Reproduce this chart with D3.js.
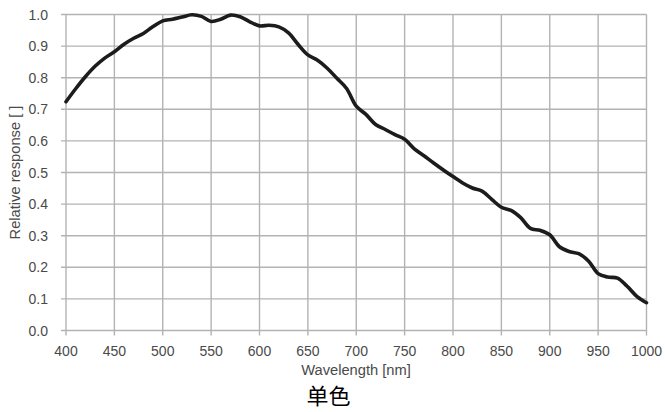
<!DOCTYPE html>
<html>
<head>
<meta charset="utf-8">
<script src="https://cdn.jsdelivr.net/npm/d3@7"></script>
<style>
  body { margin: 0; background: #fff; }
  text { font-family: "Liberation Sans", Arial, sans-serif; }
</style>
</head>
<body>
<div id="chart"></div>
<script>
let width = 665,
    height = 412;

// spectral response
const wavelength = [400, 410, 420, 430, 440, 450, 460, 470, 480, 490,
  500, 510, 520, 530, 540, 550, 560, 570, 580, 590,
  600, 610, 620, 630, 640, 650, 660, 670, 680, 690,
  700, 710, 720, 730, 740, 750, 760, 770, 780, 790,
  800, 810, 820, 830, 840, 850, 860, 870, 880, 890,
  900, 910, 920, 930, 940, 950, 960, 970, 980, 990, 1000];
const response = [0.724, 0.765, 0.803, 0.836, 0.862, 0.882, 0.906, 0.925, 0.940, 0.962,
  0.980, 0.985, 0.992, 0.999, 0.994, 0.978, 0.985, 0.998, 0.993, 0.977,
  0.964, 0.966, 0.961, 0.942, 0.905, 0.872, 0.855, 0.830, 0.798, 0.766,
  0.710, 0.684, 0.652, 0.636, 0.620, 0.605, 0.575, 0.553, 0.530, 0.508,
  0.487, 0.467, 0.451, 0.441, 0.415, 0.390, 0.380, 0.357, 0.323, 0.317,
  0.303, 0.265, 0.250, 0.243, 0.220, 0.180, 0.169, 0.166, 0.140, 0.108, 0.088];

const xTicks = [400, 450, 500, 550, 600, 650, 700, 750, 800, 850, 900, 950, 1000];
const yTicks = [0, 0.1, 0.2, 0.3, 0.4, 0.5, 0.6, 0.7, 0.8, 0.9, 1.0];

const margin = {left: 66, right: 18.5, top: 14.5, bottom: 81.5};

const svg = d3.select("#chart")
  .append("svg")
  .attr("width", width)
  .attr("height", height);

const x = d3.scaleLinear()
  .domain([400, 1000])
  .range([margin.left, width - margin.right]);
const y = d3.scaleLinear()
  .domain([0, 1])
  .range([height - margin.bottom, margin.top]);

// grid
svg.append("g")
  .selectAll("line.v")
  .data(xTicks)
  .enter().append("line")
  .attr("x1", d => x(d)).attr("x2", d => x(d))
  .attr("y1", y(1)).attr("y2", y(0) + 5)
  .style("stroke", "#b3b3b3")
  .style("stroke-width", 1.4);

svg.append("g")
  .selectAll("line.h")
  .data(yTicks)
  .enter().append("line")
  .attr("x1", x(400) - 5).attr("x2", x(1000))
  .attr("y1", d => y(d)).attr("y2", d => y(d))
  .style("stroke", "#b3b3b3")
  .style("stroke-width", 1.4);

// tick labels
svg.append("g")
  .selectAll("text")
  .data(xTicks)
  .enter().append("text")
  .attr("x", d => x(d))
  .attr("y", y(0) + 25.5)
  .attr("text-anchor", "middle")
  .style("font-size", "14px")
  .style("fill", "#4a4a4a")
  .text(d => d);

svg.append("g")
  .selectAll("text")
  .data(yTicks)
  .enter().append("text")
  .attr("x", x(400) - 18)
  .attr("y", d => y(d) + 5)
  .attr("text-anchor", "end")
  .style("font-size", "14px")
  .style("fill", "#4a4a4a")
  .text(d => d.toFixed(1));

// titles
svg.append("text")
  .attr("transform", "translate(20," + ((y(0) + y(1)) / 2) + ") rotate(-90)")
  .attr("text-anchor", "middle")
  .style("font-size", "14.7px")
  .style("fill", "#4a4a4a")
  .text("Relative response [ ]");

svg.append("text")
  .attr("x", 356)
  .attr("y", 375)
  .attr("text-anchor", "middle")
  .style("font-size", "14.7px")
  .style("fill", "#4a4a4a")
  .text("Wavelength [nm]");

svg.append("text")
  .attr("x", 328.5)
  .attr("y", 404)
  .attr("text-anchor", "middle")
  .style("font-family", "'Noto Sans CJK SC', sans-serif")
  .style("font-size", "22px")
  .style("fill", "#000")
  .text("单色");

// curve
const line = d3.line()
  .x(d => x(d[0]))
  .y(d => y(d[1]))
  .curve(d3.curveCatmullRom);

svg.append("path")
  .datum(d3.zip(wavelength, response))
  .attr("d", line)
  .style("fill", "none")
  .style("stroke", "#1c1c1c")
  .style("stroke-width", 3.6)
  .style("stroke-linejoin", "round")
  .style("stroke-linecap", "round");
</script>
</body>
</html>
